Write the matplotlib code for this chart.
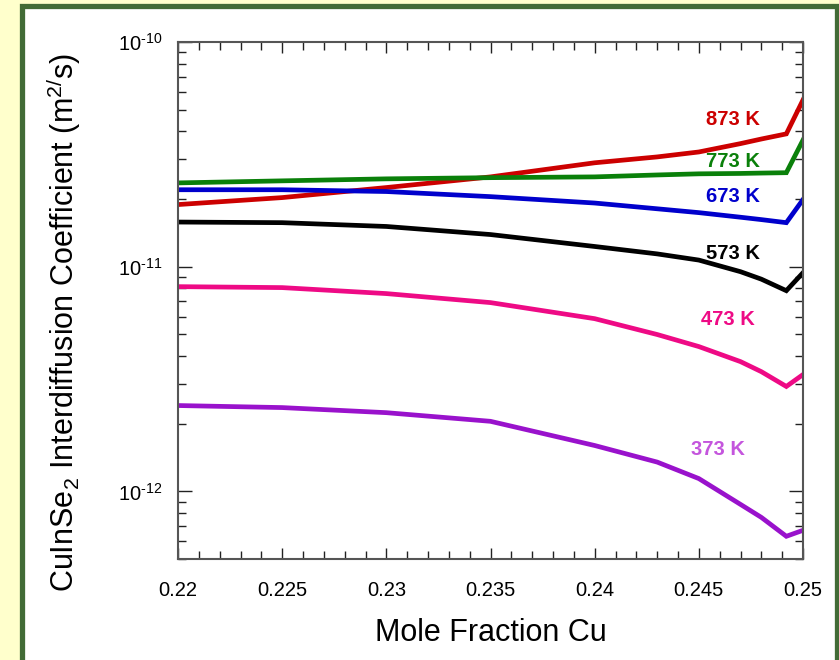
import matplotlib
matplotlib.use("Agg")
import matplotlib.pyplot as plt
from matplotlib.patches import Rectangle
from matplotlib.ticker import MultipleLocator, LogLocator, NullFormatter, FixedLocator

plt.rcParams['font.family'] = ['Liberation Sans', 'DejaVu Sans']
plt.rcParams['mathtext.fontset'] = 'custom'
plt.rcParams['mathtext.rm'] = 'Liberation Sans'
plt.rcParams['mathtext.it'] = 'Liberation Sans:italic'
plt.rcParams['mathtext.bf'] = 'Liberation Sans:bold'
plt.rcParams['axes.unicode_minus'] = False

# Mole fraction of Cu
x_cu = [0.220, 0.225, 0.230, 0.235, 0.240, 0.243, 0.245, 0.247, 0.248, 0.2492, 0.250]

# Interdiffusion coefficients (m^2/s) by temperature
d_873 = [1.89e-11, 2.03e-11, 2.25e-11, 2.51e-11, 2.90e-11, 3.08e-11, 3.24e-11, 3.53e-11, 3.70e-11, 3.90e-11, 5.52e-11]
d_773 = [2.36e-11, 2.41e-11, 2.46e-11, 2.49e-11, 2.51e-11, 2.56e-11, 2.59e-11, 2.60e-11, 2.61e-11, 2.62e-11, 3.66e-11]
d_673 = [2.20e-11, 2.20e-11, 2.16e-11, 2.05e-11, 1.92e-11, 1.81e-11, 1.74e-11, 1.66e-11, 1.62e-11, 1.57e-11, 1.99e-11]
d_573 = [1.58e-11, 1.57e-11, 1.51e-11, 1.39e-11, 1.23e-11, 1.14e-11, 1.07e-11, 9.5e-12, 8.8e-12, 7.82e-12, 9.4e-12]
d_473 = [8.15e-12, 8.07e-12, 7.59e-12, 6.92e-12, 5.87e-12, 4.99e-12, 4.41e-12, 3.78e-12, 3.41e-12, 2.93e-12, 3.31e-12]
d_373 = [2.41e-12, 2.36e-12, 2.24e-12, 2.05e-12, 1.60e-12, 1.35e-12, 1.14e-12, 8.75e-13, 7.66e-13, 6.31e-13, 6.71e-13]

x_ticks = [0.22, 0.225, 0.23, 0.235, 0.24, 0.245, 0.25]
x_tick_labels = ["0.22", "0.225", "0.23", "0.235", "0.24", "0.245", "0.25"]
y_ticks = [1e-12, 1e-11, 1e-10]
y_tick_labels = [r"$\mathregular{10^{\text{-12}}}$", r"$\mathregular{10^{\text{-11}}}$",
                 r"$\mathregular{10^{\text{-10}}}$"]

series = [
    ("873 K", d_873, "#cc0000", "#cc0000", (0.24664, 4.5e-11)),
    ("773 K", d_773, "#0a800a", "#0a800a", (0.24664, 2.93e-11)),
    ("673 K", d_673, "#0000cc", "#0000cc", (0.24664, 2.05e-11)),
    ("573 K", d_573, "#000000", "#000000", (0.24664, 1.15e-11)),
    ("473 K", d_473, "#ee0a85", "#ee0a85", (0.2464, 5.8e-12)),
    ("373 K", d_373, "#9912cc", "#c455dd", (0.24592, 1.54e-12)),
]

fig = plt.figure(figsize=(8.39, 6.6), dpi=100)
fig.patch.set_facecolor("#ffffcc")

# white panel with a dark green frame
fig.patches.append(Rectangle((21.5 / 839, -0.05), (836.5 - 21.5) / 839, 1.05 - 6.5 / 660,
                             transform=fig.transFigure, facecolor="white",
                             edgecolor="#426b36", linewidth=3.8, zorder=-10))

ax = fig.add_axes([178 / 839, 1 - 559 / 660, 625 / 839, 517 / 660])
ax.set_zorder(5)
ax.set_facecolor("white")

for name, vals, lc, tc, (tx, ty) in series:
    ax.plot(x_cu, vals, color=lc, lw=3.4, solid_joinstyle="miter")
    ax.text(tx, ty, name, color=tc, fontsize=14.5, fontweight="bold",
            ha="center", va="center")

ax.set_yscale("log")
ax.set_xlim(0.22, 0.25)
ax.set_ylim(5e-13, 1e-10)

ax.xaxis.set_minor_locator(MultipleLocator(0.001))
ax.set_xticks(x_ticks)
ax.set_xticklabels(x_tick_labels)
ax.yaxis.set_major_locator(FixedLocator(y_ticks))
ax.set_yticklabels(y_tick_labels)
ax.yaxis.set_minor_locator(LogLocator(base=10, subs=range(2, 10)))
ax.yaxis.set_minor_formatter(NullFormatter())

ax.tick_params(which="both", direction="in", top=True, right=True, color="#222222", width=1.0)
ax.tick_params(which="major", length=10, labelsize=14.5)
ax.tick_params(which="minor", length=5.5)
ax.tick_params(axis="x", which="major", length=8, pad=16)
ax.tick_params(axis="y", which="major", pad=11)
for s in ax.spines.values():
    s.set_color("#555555")
    s.set_linewidth(1.5)

ax.set_xlabel("Mole Fraction Cu", fontsize=22)
ax.xaxis.set_label_coords(0.5, -0.115)
ax.set_ylabel(r"CuInSe$_\mathregular{2}$ Interdiffusion Coefficient (m$^\mathregular{2/}$s)", fontsize=22)
ax.yaxis.set_label_coords(-0.152, 0.458)

fig.savefig("out.png", dpi=100, facecolor=fig.get_facecolor())
